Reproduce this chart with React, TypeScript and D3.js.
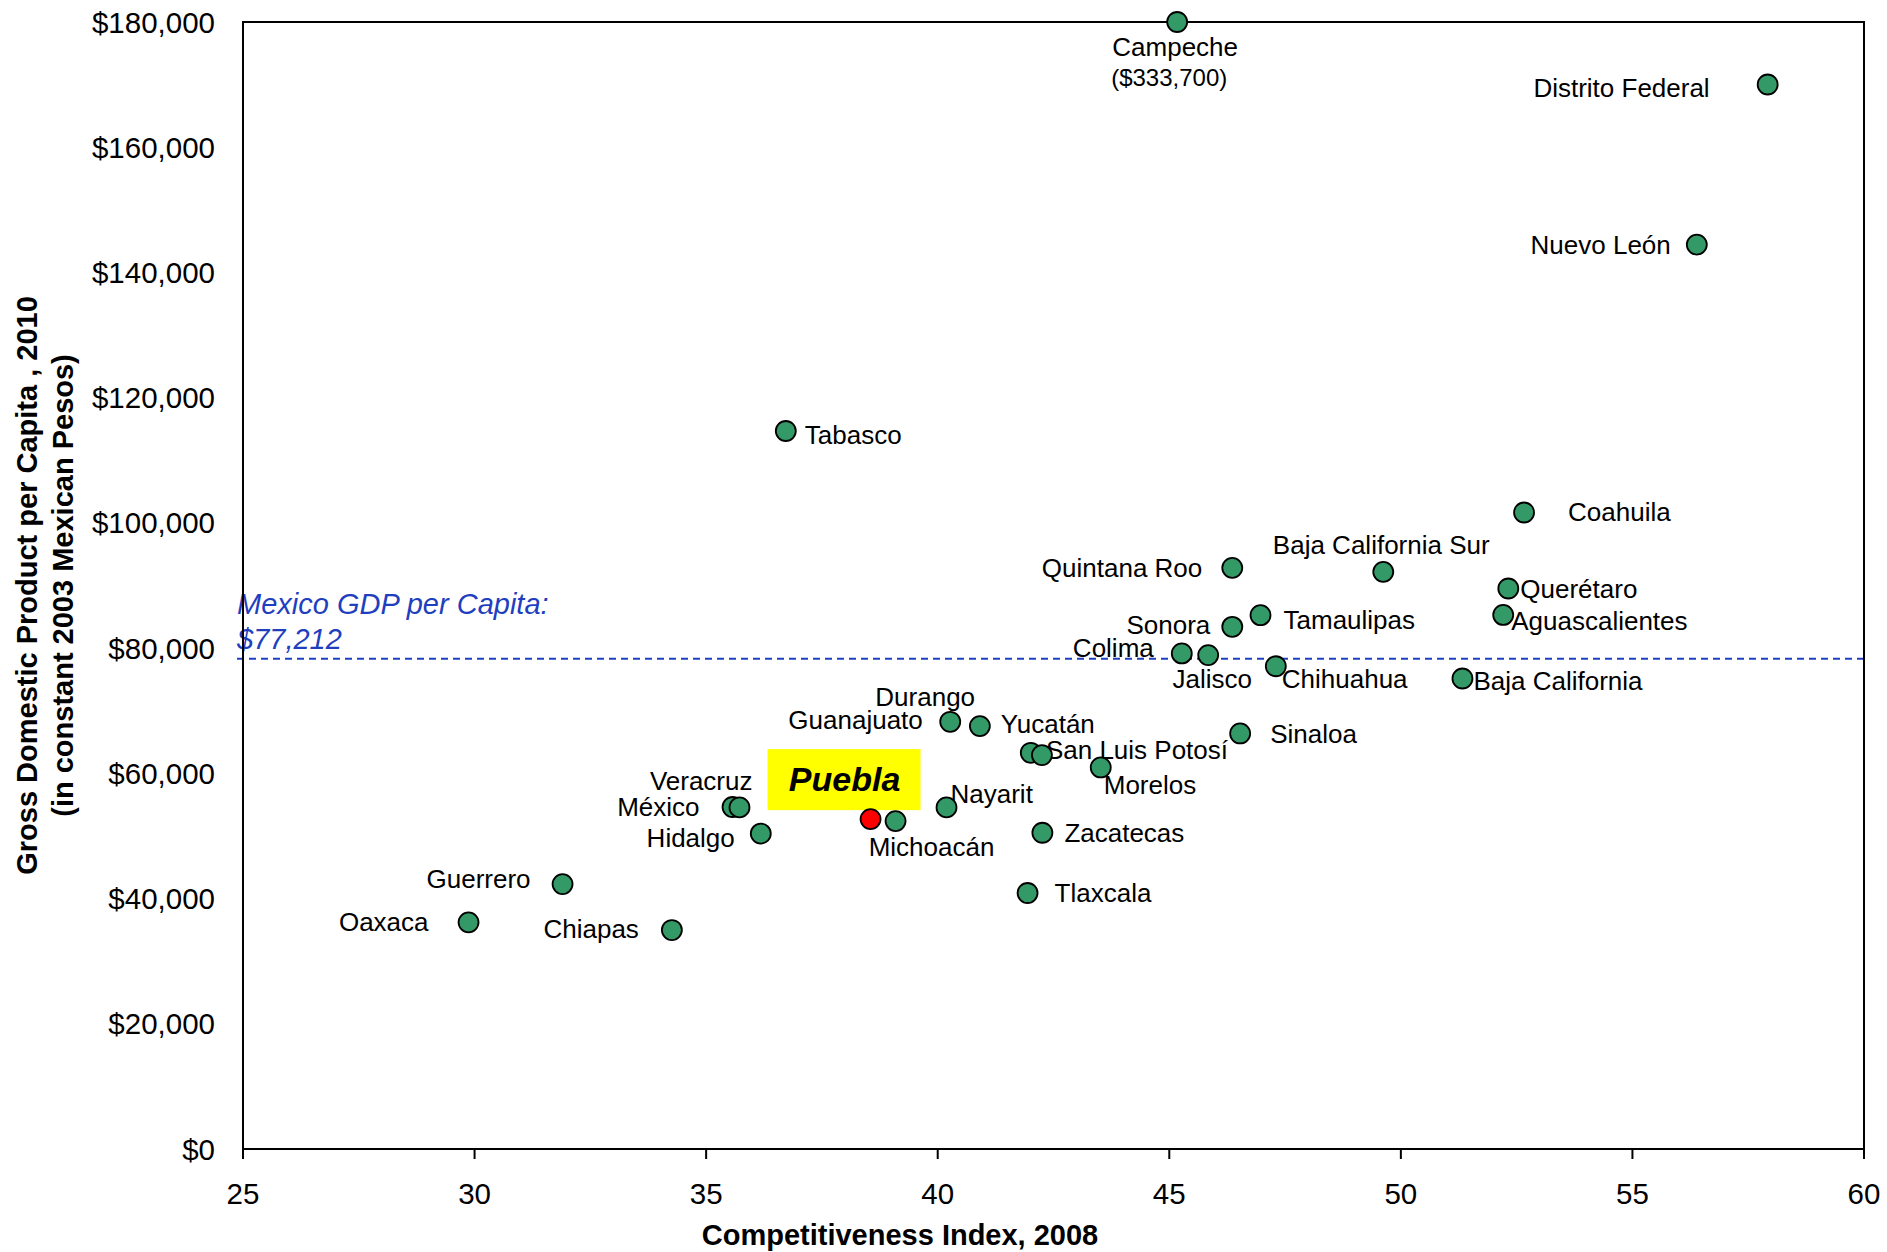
import React from "react";
import * as d3 from "d3";

const states: string[] = [
  "Aguascalientes", "Baja California", "Baja California Sur", "Campeche", "Coahuila",
  "Colima", "Chiapas", "Chihuahua", "Distrito Federal", "Durango", "Guanajuato",
  "Guerrero", "Hidalgo", "Jalisco", "México", "Michoacán", "Morelos", "Nayarit",
  "Nuevo León", "Oaxaca", "Puebla", "Querétaro", "Quintana Roo", "San Luis Potosí",
  "Sinaloa", "Sonora", "Tabasco", "Tamaulipas", "Tlaxcala", "Veracruz", "Yucatán", "Zacatecas",
];

const competitiveness: number[] = [
  52.21, 51.33, 49.62, 45.17, 52.66,
  45.27, 34.26, 47.3, 57.92, 40.27, 42.01,
  31.9, 36.18, 45.84, 35.57, 39.09, 43.52, 40.19,
  56.39, 29.87, 38.55, 52.32, 46.36, 42.25,
  46.53, 46.36, 36.72, 46.97, 41.94, 35.72, 40.91, 42.26,
];

const gdpPerCapita: number[] = [
  85300, 75150, 92180, 333700, 101660,
  79150, 34970, 77100, 170020, 68230, 63280,
  42310, 50380, 78880, 54620, 52370, 60940, 54560,
  144450, 36200, 52690, 89520, 92820, 62910,
  66370, 83400, 114680, 85260, 40890, 54560, 67540, 50510,
];

const highlightState = "Puebla";
const mexicoGdp = 77212;
const mexicoLineValue = 78300; // as drawn in the source picture
const xTicks: number[] = [25, 30, 35, 40, 45, 50, 55, 60];
const yTicks: number[] = [0, 20000, 40000, 60000, 80000, 100000, 120000, 140000, 160000, 180000];

// label placement (layout only): offset from the dot, in pixels, plus text anchor
const labelLayout: Record<string, { dx: number; dy: number; anchor: string }> = {
  "Aguascalientes": { dx: 8, dy: 6, anchor: "start" },
  "Baja California": { dx: 11, dy: 3, anchor: "start" },
  "Baja California Sur": { dx: -2, dy: -27, anchor: "middle" },
  "Campeche": { dx: -2, dy: 25, anchor: "middle" },
  "Coahuila": { dx: 44, dy: 0, anchor: "start" },
  "Colima": { dx: -28, dy: -5, anchor: "end" },
  "Chiapas": { dx: -33, dy: -1, anchor: "end" },
  "Chihuahua": { dx: 6, dy: 13, anchor: "start" },
  "Distrito Federal": { dx: -58, dy: 4, anchor: "end" },
  "Durango": { dx: -25, dy: -25, anchor: "middle" },
  "Guanajuato": { dx: -108, dy: -33, anchor: "end" },
  "Guerrero": { dx: -32, dy: -5, anchor: "end" },
  "Hidalgo": { dx: -26, dy: 4, anchor: "end" },
  "Jalisco": { dx: 4, dy: 24, anchor: "middle" },
  "México": { dx: -33, dy: 0, anchor: "end" },
  "Michoacán": { dx: 36, dy: 26, anchor: "middle" },
  "Morelos": { dx: 3, dy: 18, anchor: "start" },
  "Nayarit": { dx: 4, dy: -13, anchor: "start" },
  "Nuevo León": { dx: -26, dy: 0, anchor: "end" },
  "Oaxaca": { dx: -40, dy: 0, anchor: "end" },
  "Querétaro": { dx: 12, dy: 0, anchor: "start" },
  "Quintana Roo": { dx: -30, dy: 0, anchor: "end" },
  "San Luis Potosí": { dx: 4, dy: -5, anchor: "start" },
  "Sinaloa": { dx: 30, dy: 1, anchor: "start" },
  "Sonora": { dx: -22, dy: -2, anchor: "end" },
  "Tabasco": { dx: 19, dy: 4, anchor: "start" },
  "Tamaulipas": { dx: 23, dy: 5, anchor: "start" },
  "Tlaxcala": { dx: 27, dy: 0, anchor: "start" },
  "Veracruz": { dx: 13, dy: -26, anchor: "end" },
  "Yucatán": { dx: 21, dy: -2, anchor: "start" },
  "Zacatecas": { dx: 22, dy: 0, anchor: "start" },
};

const W = 1887;
const H = 1252;
const M = { left: 243, right: 1864, top: 22, bottom: 1149 };
const FONT = "'Liberation Sans', Arial, Helvetica, sans-serif";

export default function App() {
  const x = d3.scaleLinear().domain([25, 60]).range([M.left, M.right]);
  const y = d3.scaleLinear().domain([0, 180000]).range([M.bottom, M.top]);
  const yMax = 180000;
  const fmt = (v: number) => "$" + d3.format(",")(v);

  const points = states.map((s, i) => ({
    name: s,
    cx: x(competitiveness[i]),
    cy: y(Math.min(gdpPerCapita[i], yMax)),
    value: gdpPerCapita[i],
  }));

  const avgY = y(mexicoLineValue);
  const puebla = points.find((p) => p.name === highlightState)!;
  const campeche = points.find((p) => p.name === "Campeche")!;

  return (
    <svg
      width={W}
      height={H}
      viewBox={`0 0 ${W} ${H}`}
      style={{ position: "absolute", left: 0, top: 0, display: "block", background: "#fff" }}
      fontFamily={FONT}
    >
      <rect x={0} y={0} width={W} height={H} fill="#fff" />

      {/* Mexico average line */}
      <line x1={237} x2={M.right} y1={avgY} y2={avgY} stroke="#1f3fbf" strokeWidth={2} strokeDasharray="7,5" />
      <text x={237} y={604} fontSize={29} fontStyle="italic" fill="#1f3fbf" dominantBaseline="central">
        Mexico GDP per Capita:
      </text>
      <text x={237} y={639} fontSize={29} fontStyle="italic" fill="#1f3fbf" dominantBaseline="central">
        {fmt(mexicoGdp)}
      </text>

      {/* plot frame */}
      <rect
        x={M.left}
        y={M.top}
        width={M.right - M.left}
        height={M.bottom - M.top}
        fill="none"
        stroke="#000"
        strokeWidth={2}
      />

      {/* x ticks */}
      {xTicks.map((t) => (
        <g key={"xt" + t}>
          <line x1={x(t)} x2={x(t)} y1={M.bottom} y2={M.bottom + 10} stroke="#000" strokeWidth={2} />
          <text x={x(t)} y={1193} fontSize={29.5} textAnchor="middle" dominantBaseline="central" fill="#000">
            {t}
          </text>
        </g>
      ))}

      {/* y ticks */}
      {yTicks.map((t) => (
        <text key={"yt" + t} x={215} y={y(t)} fontSize={29.5} textAnchor="end" dominantBaseline="central" fill="#000">
          {fmt(t)}
        </text>
      ))}

      {/* axis titles */}
      <text x={900} y={1235} fontSize={29} fontWeight="bold" textAnchor="middle" dominantBaseline="central">
        Competitiveness Index, 2008
      </text>
      <g transform={`translate(27, ${(M.top + M.bottom) / 2}) rotate(-90)`}>
        <text x={0} y={0} fontSize={29} fontWeight="bold" textAnchor="middle" dominantBaseline="central">
          Gross Domestic Product per Capita , 2010
        </text>
      </g>
      <g transform={`translate(63, ${(M.top + M.bottom) / 2}) rotate(-90)`}>
        <text x={0} y={0} fontSize={29} fontWeight="bold" textAnchor="middle" dominantBaseline="central">
          (in constant 2003 Mexican Pesos)
        </text>
      </g>

      {/* Puebla highlight box */}
      <rect x={puebla.cx - 103} y={puebla.cy - 70} width={153} height={61} fill="#ffff00" />
      <text
        x={puebla.cx - 26}
        y={puebla.cy - 40}
        fontSize={34}
        fontWeight="bold"
        fontStyle="italic"
        textAnchor="middle"
        dominantBaseline="central"
      >
        {highlightState}
      </text>

      {/* labels */}
      {points
        .filter((p) => p.name !== highlightState)
        .map((p) => {
          const l = labelLayout[p.name];
          return (
            <text
              key={"lb" + p.name}
              x={p.cx + l.dx}
              y={p.cy + l.dy}
              fontSize={26}
              textAnchor={l.anchor as any}
              dominantBaseline="central"
              fill="#000"
            >
              {p.name}
            </text>
          );
        })}
      <text x={campeche.cx - 66} y={campeche.cy + 55} fontSize={24} dominantBaseline="central">
        ({fmt(campeche.value)})
      </text>

      {/* dots */}
      {points.map((p) => (
        <circle
          key={"pt" + p.name}
          cx={p.cx}
          cy={p.cy}
          r={10}
          fill={p.name === highlightState ? "#ff0000" : "#339966"}
          stroke="#000"
          strokeWidth={1.8}
        />
      ))}
    </svg>
  );
}
